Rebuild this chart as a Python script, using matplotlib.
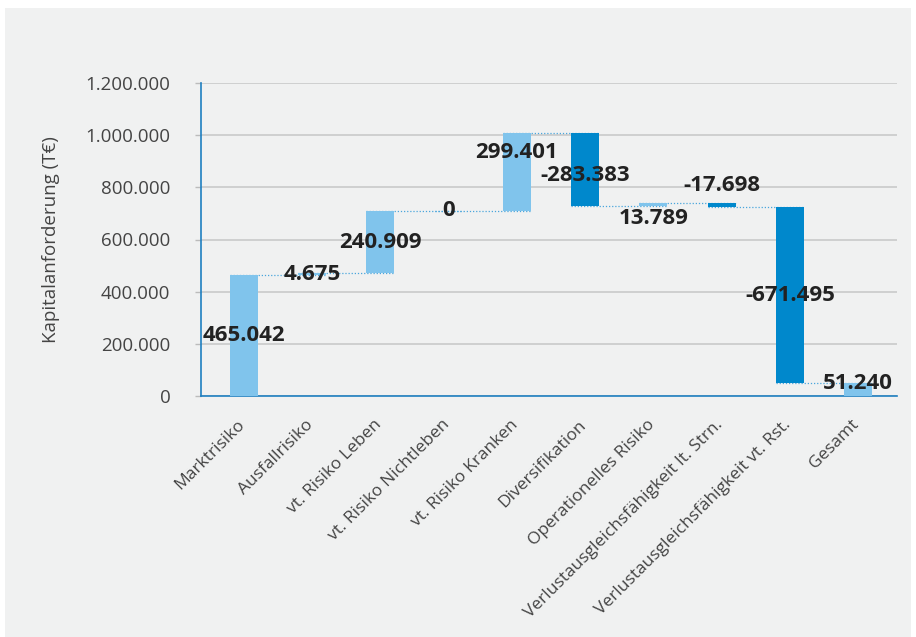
import matplotlib
matplotlib.use("Agg")
import matplotlib.pyplot as plt
from matplotlib.patches import Rectangle
from matplotlib.ticker import FuncFormatter
import matplotlib.transforms as mtransforms

plt.rcParams['font.family'] = ['Open Sans', 'DejaVu Sans']

categories = [
    "Marktrisiko",
    "Ausfallrisiko",
    "vt. Risiko Leben",
    "vt. Risiko Nichtleben",
    "vt. Risiko Kranken",
    "Diversifikation",
    "Operationelles Risiko",
    "Verlustausgleichsfähigkeit lt. Strn.",
    "Verlustausgleichsfähigkeit vt. Rst.",
    "Gesamt",
]
values = [465042, 4675, 240909, 0, 299401, -283383, 13789, -17698, -671495, 51240]
is_total = [False] * 9 + [True]
yticks = [0, 200000, 400000, 600000, 800000, 1000000, 1200000]

# label nudges in points (to avoid overlaps like in the original)
label_dy = [0, 0, 0, 0, 14, -4, -10, 14, 0, 4]

light = "#80c4ec"
dark = "#0088cc"
axis_blue = "#1f7fc0"
bg = "#f0f1f1"

def de_fmt(v):
    return f"{int(v):,}".replace(",", ".")

fig = plt.figure(figsize=(9.16, 6.37), dpi=100)
fig.patch.set_facecolor("white")
fig.patches.append(Rectangle((5 / 916, 0), 906 / 916, 1 - 8 / 637,
                             transform=fig.transFigure, facecolor=bg,
                             edgecolor="none", zorder=-10))

ax = fig.add_axes([201 / 916, 1 - 396 / 637, (897 - 201) / 916, (396 - 83) / 637])
ax.set_facecolor("none")

# waterfall geometry
bottoms, heights, colors, levels = [], [], [], []
run = 0
for v, tot in zip(values, is_total):
    if tot:
        bottoms.append(0)
        heights.append(v)
        colors.append(light)
        run = v
    else:
        if v >= 0:
            bottoms.append(run)
            colors.append(light)
        else:
            bottoms.append(run + v)
            colors.append(dark)
        heights.append(abs(v))
        run += v
    levels.append(run)

x = list(range(len(categories)))
w = 0.41
ax.bar(x, heights, bottom=bottoms, width=w, color=colors, zorder=3)

# dotted connectors
for i in range(len(x) - 1):
    ax.plot([x[i] - w / 2, x[i + 1] + w / 2], [levels[i], levels[i]],
            linestyle=(0, (1, 1.5)), color="#4aa6dc", lw=0.9, zorder=2)

# value labels
for i, v in enumerate(values):
    mid = bottoms[i] + heights[i] / 2
    ax.annotate(de_fmt(v), (x[i], mid), xytext=(0, label_dy[i]),
                textcoords="offset points", ha="center", va="center",
                fontsize=16, fontweight="bold", color="#222222", zorder=5)

ax.set_xlim(-0.63, 9.57)
ax.set_ylim(0, 1200000)
ax.set_yticks(yticks)
ax.yaxis.set_major_formatter(FuncFormatter(lambda v, p: de_fmt(v)))
ax.grid(axis="y", color="#c6c6c6", lw=1.1, zorder=0)
ax.set_axisbelow(True)

for s in ["top", "right"]:
    ax.spines[s].set_visible(False)
ax.spines["left"].set_color(axis_blue)
ax.spines["bottom"].set_color(axis_blue)
ax.spines["left"].set_linewidth(1.2)
ax.spines["bottom"].set_linewidth(1.2)

ax.tick_params(axis="y", length=4, width=1, color="#bbbbbb", pad=18,
               labelsize=13.5, labelcolor="#444444")
ax.tick_params(axis="x", length=0, pad=19)
ax.set_xticks(x)
ax.set_xticklabels(categories, rotation=45, ha="right", va="center",
                   rotation_mode="anchor", fontsize=12.5, color="#444444")
off = mtransforms.ScaledTranslation(-1 / 72, 0, fig.dpi_scale_trans)
for lab in ax.get_xticklabels():
    lab.set_transform(lab.get_transform() + off)

ax.set_ylabel("Kapitalanforderung (T€)", fontsize=13.5, color="#444444", labelpad=18)

fig.savefig("out.png", dpi=100, facecolor="white")
